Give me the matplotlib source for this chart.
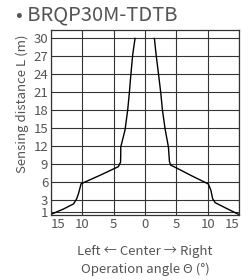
import matplotlib
matplotlib.use('Agg')
import matplotlib.pyplot as plt

plt.rcParams['font.family'] = ['Noto Sans CJK JP', 'DejaVu Sans']

# operating range (angle in deg, distance in m)
left_angle = [-14.9, -13.0, -11.4, -10.9, -10.6, -10.2, -7.2, -4.25, -3.9, -3.87, -3.87,
              -3.18, -2.76, -2.5, -2.28, -1.96, -1.59]
left_dist = [0.65, 1.5, 2.35, 3.2, 4.1, 5.7, 7.1, 8.55, 9.3, 10.8, 11.8,
             14.7, 18.0, 20.8, 23.6, 27.2, 29.9]
right_angle = [1.5, 1.77, 2.14, 2.52, 2.78, 3.21, 3.74, 3.9, 4.1, 4.8, 7.5,
               10.1, 10.5, 10.8, 11.2, 13.0, 14.9]
right_dist = [29.9, 27.2, 24.1, 20.8, 18.0, 14.8, 11.8, 9.4, 8.8, 8.45, 7.0,
              5.67, 4.67, 3.2, 2.55, 1.6, 0.62]

x_ticks = [-15, -10, -5, 0, 5, 10, 15]
x_labels = ['15', '10', '5', '0', '5', '10', '15']
y_ticks = [1, 3, 6, 9, 12, 15, 18, 21, 24, 27, 30]

txt = '#555555'

fig = plt.figure(figsize=(2.51, 2.80), dpi=100)
ax = fig.add_axes([51 / 251, 1 - 215 / 280, 188 / 251, 185 / 280])

ax.plot(left_angle, left_dist, color='black', lw=1.0)
ax.plot(right_angle, right_dist, color='black', lw=1.0)

ax.set_xlim(-15, 15)
ax.set_ylim(0.5, 31.3)
ax.set_xticks(x_ticks)
ax.set_xticklabels(x_labels)
ax.set_yticks(y_ticks)
ax.grid(True, color='#333333', lw=0.8)
ax.set_axisbelow(True)
for s in ax.spines.values():
    s.set_color('#333333')
    s.set_linewidth(0.9)
ax.tick_params(length=0, labelsize=9.5, colors=txt, pad=2)
labs = ax.get_xticklabels()
labs[0].set_ha('left')
labs[-1].set_ha('right')

fig.text(16 / 251, 1 - 15 / 280, '• BRQP30M-TDTB', fontsize=14.5, color=txt, va='center', ha='left')
fig.text(22 / 251, 1 - 104 / 280, 'Sensing distance L (m)', fontsize=9.5, color=txt,
         rotation=90, va='center', ha='center')
fig.text(145 / 251, 1 - 251 / 280, 'Left ← Center → Right', fontsize=9.5, color=txt,
         va='center', ha='center')
fig.text(145 / 251, 1 - 269 / 280, 'Operation angle Θ (°)', fontsize=9.5, color=txt,
         va='center', ha='center')

fig.savefig('out.png', dpi=100)
